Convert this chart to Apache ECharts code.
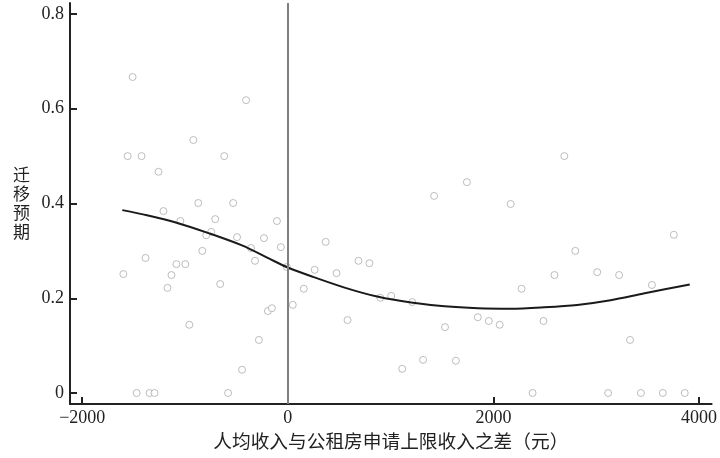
<!DOCTYPE html>
<html>
<head>
<meta charset="utf-8">
<script src="https://cdn.jsdelivr.net/npm/echarts@6/dist/echarts.min.js"></script>
<style>html,body{margin:0;padding:0;background:#fff;}#c{width:720px;height:458px;}</style>
</head>
<body>
<div id="c"></div>
<script>
// Scatter data: income difference (yuan) vs migration expectation
var scatterX = [-1600,-1510,-1558,-1423,-1258,-919,-406,-619,-871,-532,-1210,-1045,-706,-106,-745,-794,-494,-232,-358,-68,-832,-1384,-319,-1084,-997,-10,-1132,-1171,-658,48,-194,-155,-958,-281,-445,-1471,-1345,-1297,-581,
  368,261,474,687,794,155,581,900,1006,1210,1423,1742,1529,1113,1316,1635,1848,1955,2061,2168,2690,2274,2487,2594,2797,3010,3223,3542,3755,3329,2381,3116,3435,3648,3861];
var scatterY = [0.251,0.667,0.500,0.500,0.467,0.534,0.618,0.500,0.401,0.401,0.384,0.363,0.367,0.363,0.340,0.333,0.329,0.327,0.306,0.308,0.300,0.285,0.279,0.272,0.272,0.266,0.249,0.222,0.230,0.186,0.173,0.179,0.144,0.112,0.049,0,0,0,0,
  0.319,0.260,0.253,0.279,0.274,0.220,0.154,0.201,0.205,0.192,0.416,0.445,0.139,0.051,0.070,0.068,0.160,0.152,0.144,0.399,0.500,0.220,0.152,0.249,0.300,0.255,0.249,0.228,0.334,0.112,0,0,0,0,0];
// Fitted curve
var curveX = [-1610,-1410,-1090,-765,-440,-185,0,235,560,880,1200,1525,1850,2170,2495,2815,3140,3460,3910];
var curveY = [0.386,0.377,0.360,0.337,0.311,0.284,0.265,0.246,0.222,0.203,0.191,0.183,0.179,0.178,0.181,0.186,0.196,0.210,0.229];
// Tick labels
var xTicks = [-2000,0,2000,4000];
var yTicks = [0,0.2,0.4,0.6,0.8];
var xName = '人均收入与公租房申请上限收入之差（元）';
var yName = '迁移预期';

var scatterData = scatterX.map(function(x,i){return [x, scatterY[i]];});
var curveData = curveX.map(function(x,i){return [x, curveY[i]];});

var chart = echarts.init(document.getElementById('c'), null, {renderer:'canvas'});
var labelFont = {color:'#222', fontFamily:'Liberation Serif', fontSize:18};
chart.setOption({
  animation:false,
  backgroundColor:'#fff',
  grid:{left:70, right:5, top:3, bottom:54, containLabel:false},
  xAxis:{
    type:'value', min:-2119, max:4123,
    name:xName, nameLocation:'middle', nameGap:26,
    nameTextStyle:{color:'#222', fontFamily:'Noto Sans CJK SC', fontSize:18.7},
    axisLine:{show:true, onZero:false, lineStyle:{color:'#222', width:2}},
    axisTick:{show:true, inside:true, length:7, customValues:xTicks, lineStyle:{color:'#222', width:2}},
    axisLabel:Object.assign({customValues:xTicks, margin:5, formatter:function(v){return v<0?'\u2212'+Math.abs(v):String(v);}}, labelFont),
    splitLine:{show:false}
  },
  yAxis:{
    type:'value', min:-0.0232, max:0.8232,
    name:yName.split('').join('\n'), nameLocation:'middle', nameGap:40, nameRotate:0,
    nameTextStyle:{color:'#222', fontFamily:'Noto Sans CJK SC', fontSize:17, lineHeight:19},
    axisLine:{show:true, onZero:false, lineStyle:{color:'#222', width:2}},
    axisTick:{show:true, inside:true, length:7, customValues:yTicks, lineStyle:{color:'#222', width:2}},
    axisLabel:Object.assign({customValues:yTicks, margin:6, formatter:function(v){return v===0?'0':v.toFixed(1);}}, labelFont),
    splitLine:{show:false}
  },
  series:[
    {
      type:'scatter', data:scatterData, symbol:'circle', symbolSize:7,
      itemStyle:{color:'#fff', borderColor:'#adadad', borderWidth:1},
      markLine:{
        silent:true, symbol:['none','none'], label:{show:false},
        lineStyle:{color:'#808080', width:2, type:'solid'},
        data:[{xAxis:0}]
      },
      z:3
    },
    {
      type:'line', data:curveData, smooth:0.3, showSymbol:false, symbol:'none',
      lineStyle:{color:'#1a1a1a', width:2}, z:4
    }
  ]
});
</script>
</body>
</html>
